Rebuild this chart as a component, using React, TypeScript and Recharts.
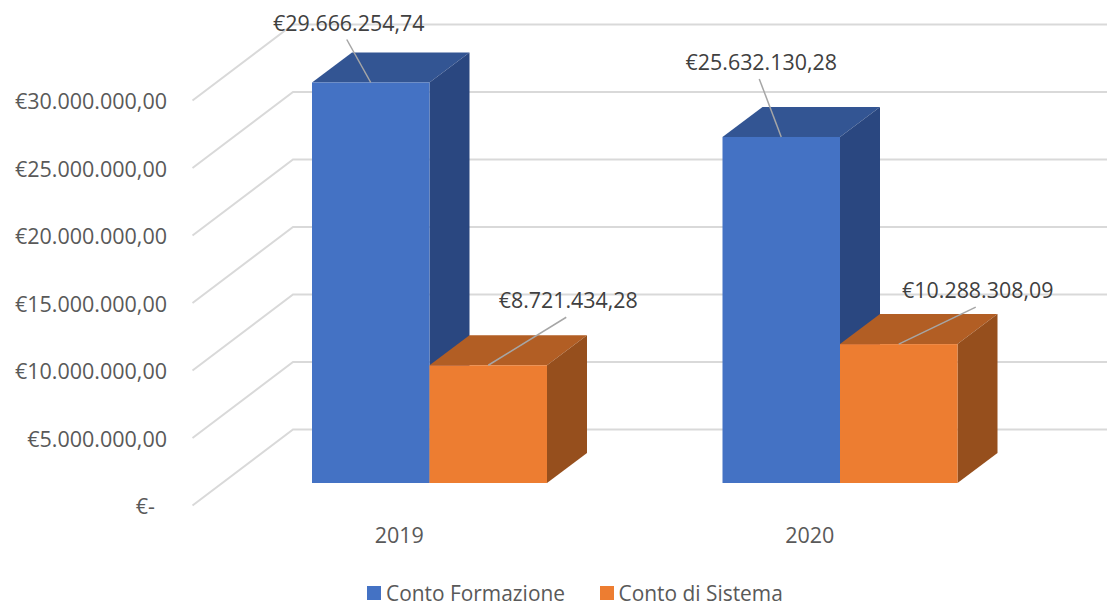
import { Bar, BarChart, CartesianGrid, LabelList, Legend, XAxis, YAxis } from "recharts"

const years = ["2019", "2020"]
const contoFormazione = [29666254.74, 25632130.28]
const contoDiSistema = [8721434.28, 10288308.09]
const axisTicks = [0, 5000000, 10000000, 15000000, 20000000, 25000000, 30000000]

const data = years.map((year, i) => ({
  year,
  formazione: contoFormazione[i],
  sistema: contoDiSistema[i],
}))

const FONT = "'Open Sans', sans-serif"
const FONT_SIZE = 21.5
const DEPTH_X = 40
const DEPTH_Y = 30

// leader line end, relative to the middle of the bar's top edge
const formazioneLeaders = [[-24, -43], [-22, -58]]
const sistemaLeaders = [[78, -48], [77, -37]]

function formatEuro(value: number) {
  return (
    "€" +
    new Intl.NumberFormat("it-IT", {
      minimumFractionDigits: 2,
      maximumFractionDigits: 2,
      useGrouping: "always",
    } as Intl.NumberFormatOptions).format(value)
  )
}

function Box3D(props: any) {
  const { x, y, width, height, fill, topFill, sideFill } = props
  const r = x + width
  const b = y + height
  return (
    <g>
      <polygon
        points={`${x},${y} ${x + DEPTH_X},${y - DEPTH_Y} ${r + DEPTH_X},${y - DEPTH_Y} ${r},${y}`}
        fill={topFill}
      />
      <polygon
        points={`${r},${y} ${r + DEPTH_X},${y - DEPTH_Y} ${r + DEPTH_X},${b - DEPTH_Y} ${r},${b}`}
        fill={sideFill}
      />
      <rect x={x} y={y} width={width} height={height} fill={fill} />
    </g>
  )
}

function GridLine(props: any) {
  const { y1, x2 } = props
  // slanted side wall, then the back wall
  return (
    <path
      d={`M192.5,${y1 + 22.5} L293,${y1 - 53.5} L${x2 + 62},${y1 - 53.5}`}
      fill="none"
      stroke="#d9d9d9"
      strokeWidth={2}
    />
  )
}

function YTick(props: any) {
  const { y, payload } = props
  const isZero = payload.value === 0
  return (
    <text x={isZero ? 155 : 167} y={y + 31} textAnchor="end" fontFamily={FONT} fontSize={FONT_SIZE} fill="#595959">
      {isZero ? "€-" : formatEuro(payload.value)}
    </text>
  )
}

function XTick(props: any) {
  const { x, payload } = props
  return (
    <text x={x - 30} y={543} textAnchor="middle" fontFamily={FONT} fontSize={FONT_SIZE} fill="#595959">
      {payload.value}
    </text>
  )
}

function leaderLabel(leaders: number[][]) {
  return function LeaderLabel(props: any) {
    const { x, y, width, value, index } = props
    const cx = x + width / 2
    const [dx, dy] = leaders[index]
    return (
      <g>
        <line x1={cx} y1={y} x2={cx + dx} y2={y + dy} stroke="#a6a6a6" strokeWidth={1.5} />
        <text
          x={cx + dx + 2}
          y={y + dy - 9}
          textAnchor="middle"
          fontFamily={FONT}
          fontSize={21.4}
          fill="#404040"
        >
          {formatEuro(value)}
        </text>
      </g>
    )
  }
}

function ChartLegend(props: any) {
  return (
    <div style={{ display: "flex", alignItems: "center", fontFamily: FONT, fontSize: 20.9, color: "#595959", lineHeight: "18px", whiteSpace: "nowrap" }}>
      {props.payload.map((entry: any, i: number) => (
        <div key={entry.value} style={{ display: "flex", alignItems: "center", width: i === 0 ? 232.5 : 200 }}>
          <span style={{ width: 14, height: 14, background: entry.color, marginRight: 5, display: "inline-block" }} />
          {entry.value}
        </div>
      ))}
    </div>
  )
}

export default function App() {
  return (
    <div style={{ position: "absolute", left: 0, top: 0, width: 1107, height: 602, background: "#fff", overflow: "hidden" }}>
      <BarChart
        width={1107}
        height={602}
        data={data}
        margin={{ top: 78, right: 62, bottom: 77, left: 0 }}
        barSize={117.5}
        barGap={0}
      >
        <CartesianGrid vertical={false} horizontal={GridLine as any} />
        <XAxis dataKey="year" height={24} axisLine={false} tickLine={false} tick={XTick as any} />
        <YAxis
          width={224}
          domain={[0, 30000000]}
          ticks={axisTicks}
          axisLine={false}
          tickLine={false}
          tick={YTick as any}
        />
        <Legend
          content={ChartLegend as any}
          wrapperStyle={{ position: "absolute", left: 367, top: 584, width: 440, height: 18, bottom: "auto" }}
          height={18}
        />
        <Bar
          dataKey="formazione"
          name="Conto Formazione"
          fill="#4472c4"
          isAnimationActive={false}
          shape={(p: any) => <Box3D {...p} topFill="#335593" sideFill="#2a4780" />}
        >
          <LabelList dataKey="formazione" content={leaderLabel(formazioneLeaders) as any} />
        </Bar>
        <Bar
          dataKey="sistema"
          name="Conto di Sistema"
          fill="#ed7d31"
          isAnimationActive={false}
          shape={(p: any) => <Box3D {...p} topFill="#b25e24" sideFill="#964f1d" />}
        >
          <LabelList dataKey="sistema" content={leaderLabel(sistemaLeaders) as any} />
        </Bar>
      </BarChart>
    </div>
  )
}
